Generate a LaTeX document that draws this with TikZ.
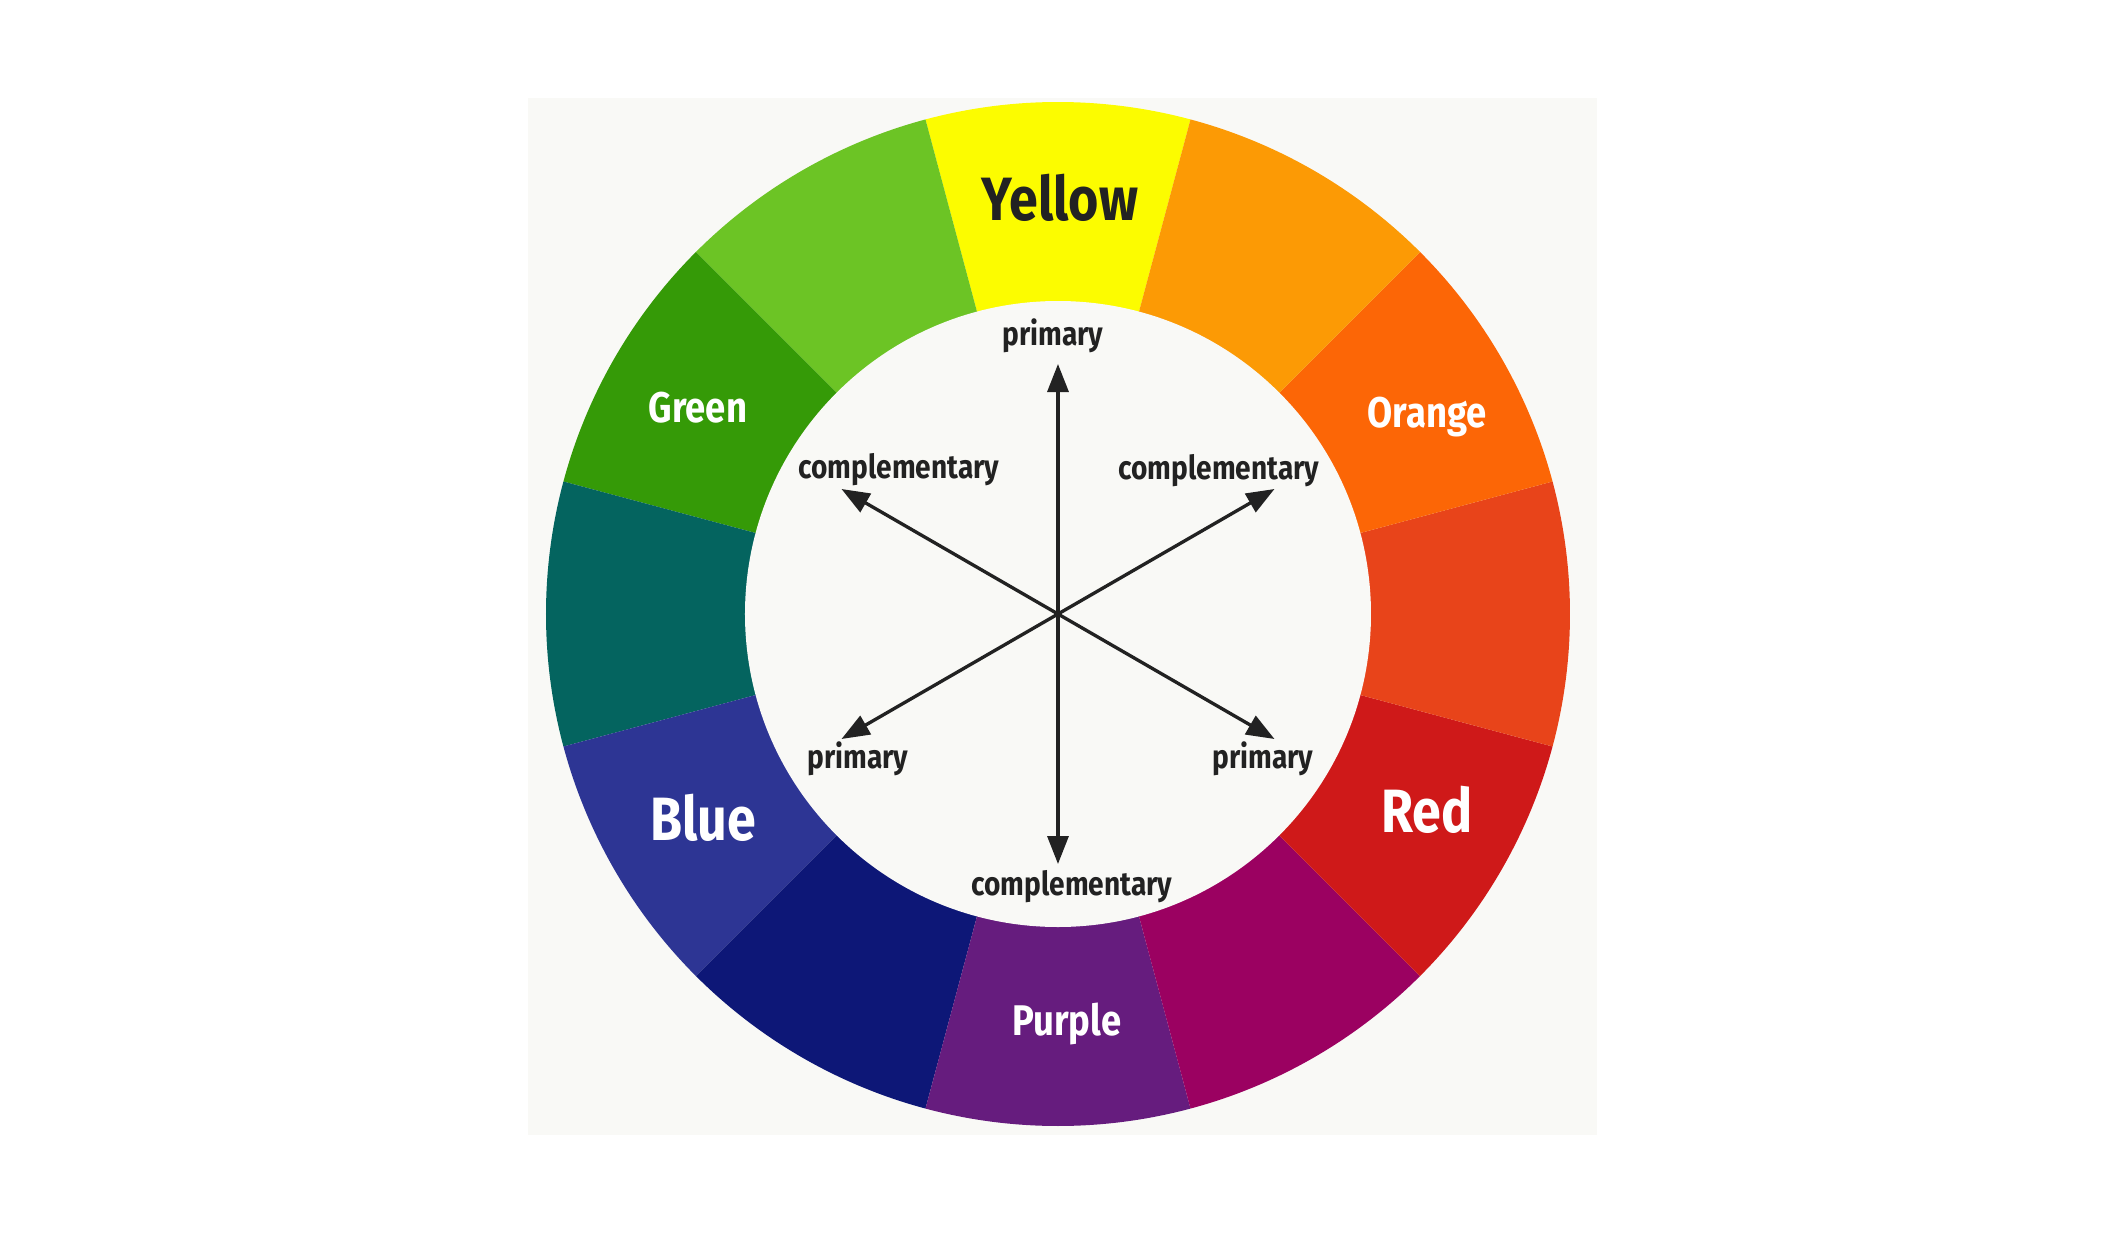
\documentclass[tikz,border=0pt]{standalone}
\usepackage{fontspec}
\setmainfont{Fira Sans}[FakeStretch=0.85]
\usetikzlibrary{arrows.meta}
\usepackage{xcolor}
\definecolor{paper}{HTML}{F9F9F6}
\definecolor{ink}{HTML}{222222}
\definecolor{cYellow}{HTML}{FCFC00}
\definecolor{cYellowOrange}{HTML}{FC9A05}
\definecolor{cOrange}{HTML}{FC6606}
\definecolor{cRedOrange}{HTML}{E8441A}
\definecolor{cRed}{HTML}{CF1919}
\definecolor{cRedViolet}{HTML}{9B0161}
\definecolor{cPurple}{HTML}{661C7E}
\definecolor{cBlueViolet}{HTML}{0D1777}
\definecolor{cBlue}{HTML}{2D3594}
\definecolor{cTeal}{HTML}{04645F}
\definecolor{cGreen}{HTML}{359A07}
\definecolor{cYellowGreen}{HTML}{6CC425}

\begin{document}
\begin{tikzpicture}[
 bigname/.style = {
        font=\fontsize{17.4}{20}\selectfont\bfseries,
        anchor=base, inner sep=0pt},
 midname/.style = {
        font=\fontsize{12.2}{14}\selectfont\bfseries,
        anchor=base, inner sep=0pt, text=white},
 tag/.style = {
        font=\fontsize{9.4}{11}\selectfont\bfseries,
        anchor=base, inner sep=0pt, text=ink},
     arrow/.style = {line width=0.95pt, draw=ink,
        -{Triangle[length=2.8mm,width=2.1mm]}}
                    ]
\useasboundingbox (-10.58,-6.18) rectangle (10.66,6.14);
\fill[white] (-10.58,-6.18) rectangle (10.66,6.14);
% the square behind the wheel
\fill[paper] (-5.30,-5.21) rectangle (5.39,5.16);
\coordinate (c) at (0,0);
% the twelve segments of the wheel
\fill[cYellow]       (c) -- (75:5.12)  arc[start angle=75,  end angle=105, radius=5.12] -- cycle;
\fill[cYellowGreen]  (c) -- (105:5.12) arc[start angle=105, end angle=135, radius=5.12] -- cycle;
\fill[cGreen]        (c) -- (135:5.12) arc[start angle=135, end angle=165, radius=5.12] -- cycle;
\fill[cTeal]         (c) -- (165:5.12) arc[start angle=165, end angle=195, radius=5.12] -- cycle;
\fill[cBlue]         (c) -- (195:5.12) arc[start angle=195, end angle=225, radius=5.12] -- cycle;
\fill[cBlueViolet]   (c) -- (225:5.12) arc[start angle=225, end angle=255, radius=5.12] -- cycle;
\fill[cPurple]       (c) -- (255:5.12) arc[start angle=255, end angle=285, radius=5.12] -- cycle;
\fill[cRedViolet]    (c) -- (285:5.12) arc[start angle=285, end angle=315, radius=5.12] -- cycle;
\fill[cRed]          (c) -- (315:5.12) arc[start angle=315, end angle=345, radius=5.12] -- cycle;
\fill[cRedOrange]    (c) -- (-15:5.12) arc[start angle=-15, end angle=15,  radius=5.12] -- cycle;
\fill[cOrange]       (c) -- (15:5.12)  arc[start angle=15,  end angle=45,  radius=5.12] -- cycle;
\fill[cYellowOrange] (c) -- (45:5.12)  arc[start angle=45,  end angle=75,  radius=5.12] -- cycle;
% the hole in the middle
\fill[paper] (c) circle[radius=3.13];

% the colour names on the ring
\node (yellow) [bigname, text=ink]   at (0.02,3.94)   {Yellow};
\node (red)    [bigname, text=white] at (3.69,-2.18)  {Red};
\node (blue)   [bigname, text=white] at (-3.55,-2.26) {Blue};
\node (orange) [midname] at (3.69,1.87)   {Orange};
\node (purple) [midname] at (0.09,-4.21)  {Purple};
\node (green)  [midname] at (-3.60,1.92)  {Green};

% the arrow ends
\coordinate (a1) at (90:2.5);
\coordinate (a2) at (30:2.5);
\coordinate (a3) at (150:2.5);
\coordinate (a4) at (210:2.5);
\coordinate (a5) at (330:2.5);
\coordinate (a6) at (270:2.5);
\draw[arrow] (c) -- (a1);
\draw[arrow] (c) -- (a2);
\draw[arrow] (c) -- (a3);
\draw[arrow] (c) -- (a4);
\draw[arrow] (c) -- (a5);
\draw[arrow] (c) -- (a6);

% the words at the arrow ends
\node (t1) [tag] at (-0.05,2.69)  {primary};
\node (t2) [tag] at (1.61,1.35)   {complementary};
\node (t3) [tag] at (-1.59,1.36)  {complementary};
\node (t4) [tag] at (-2.00,-1.54) {primary};
\node (t5) [tag] at (2.05,-1.54)  {primary};
\node (t6) [tag] at (0.14,-2.81)  {complementary};
\end{tikzpicture}
\end{document}
